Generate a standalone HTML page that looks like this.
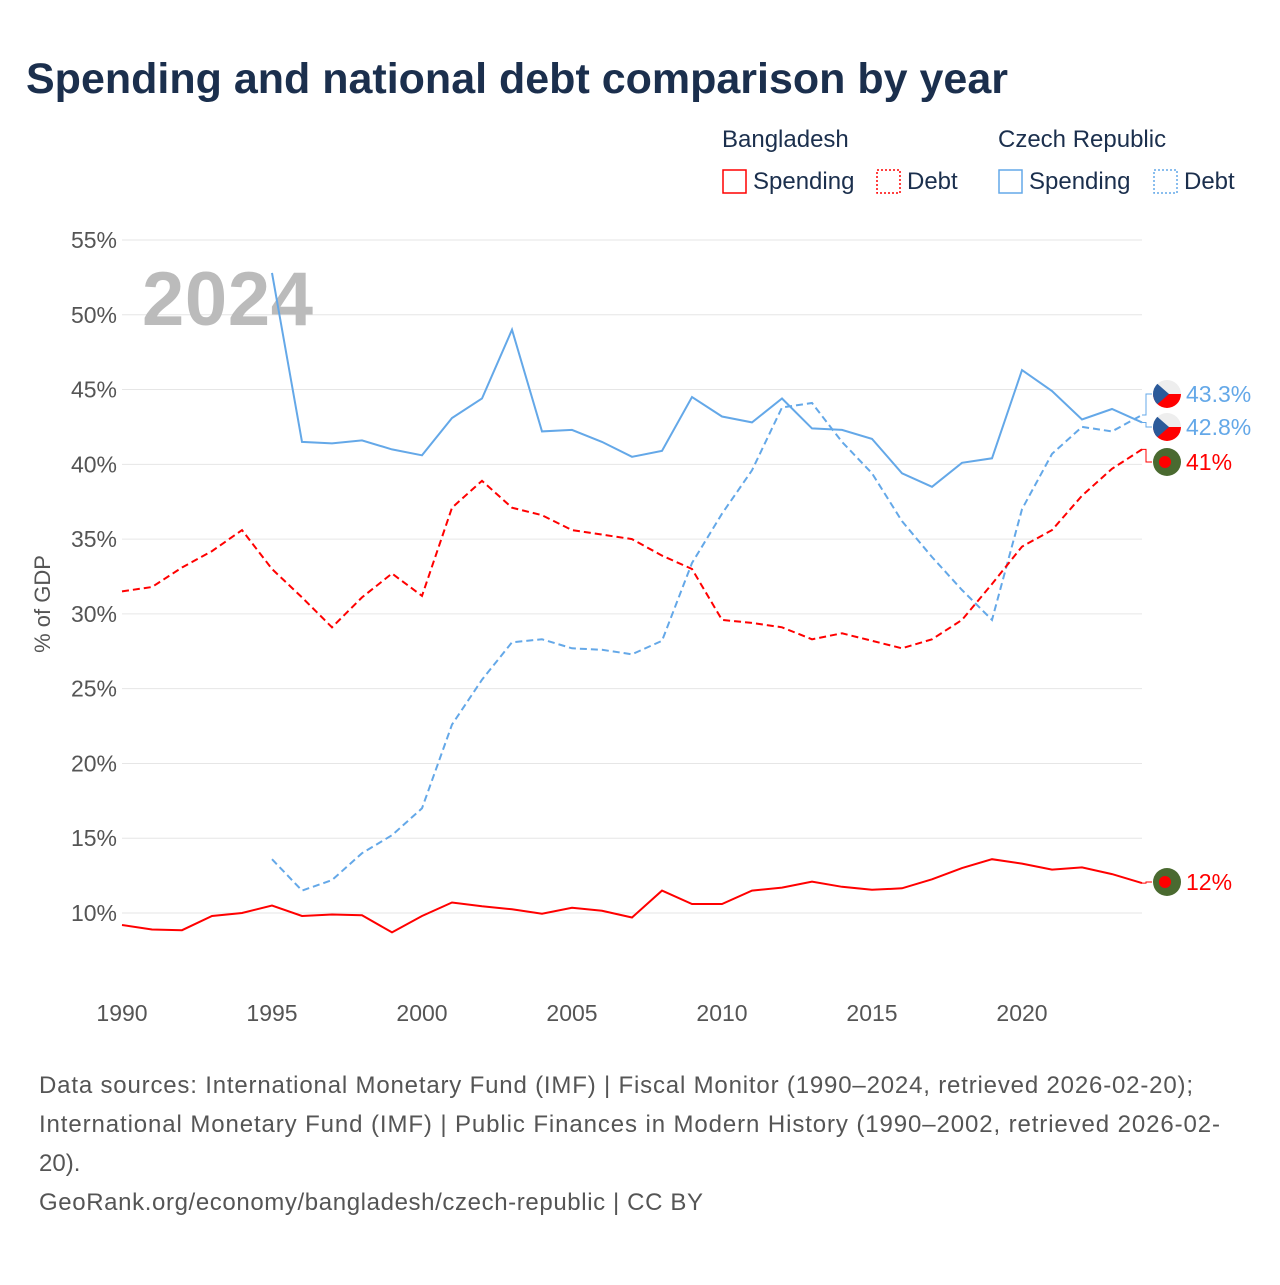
<!DOCTYPE html>
<html><head><meta charset="utf-8"><style>
body{margin:0;background:#fff;font-family:"Liberation Sans",sans-serif}
</style></head><body>
<svg id="c" width="1280" height="1280" xmlns="http://www.w3.org/2000/svg">
<defs><clipPath id="cc"><circle cx="0" cy="0" r="14"/></clipPath></defs>
<text x="26" y="93" font-size="43" font-weight="bold" fill="#1b2f4d">Spending and national debt comparison by year</text>
<g font-size="24" fill="#1b2f4d">
<text x="722" y="147">Bangladesh</text>
<text x="998" y="147">Czech Republic</text>
<rect x="723" y="170" width="23" height="23" fill="none" stroke="#f00" stroke-width="1.5"/>
<text x="753" y="189">Spending</text>
<rect x="877" y="170" width="23" height="23" fill="none" stroke="#f00" stroke-width="1.5" stroke-dasharray="2,2"/>
<text x="907" y="189">Debt</text>
<rect x="999" y="170" width="23" height="23" fill="none" stroke="#64a8e8" stroke-width="1.5"/>
<text x="1029" y="189">Spending</text>
<rect x="1154" y="170" width="23" height="23" fill="none" stroke="#64a8e8" stroke-width="1.5" stroke-dasharray="2,2"/>
<text x="1184" y="189">Debt</text>
</g>
<g id="grid"></g>
<text x="142" y="325" font-size="76" font-weight="bold" fill="#bbb" textLength="171">2024</text>
<g id="series"></g>
<g id="labels"></g>
<text transform="translate(50,604) rotate(-90)" text-anchor="middle" font-size="22" fill="#555">% of GDP</text>
<g font-size="24" fill="#555">
<text x="39" y="1093" textLength="1154">Data sources: International Monetary Fund (IMF) | Fiscal Monitor (1990–2024, retrieved 2026-02-20);</text>
<text x="39" y="1132" textLength="1181">International Monetary Fund (IMF) | Public Finances in Modern History (1990–2002, retrieved 2026-02-</text>
<text x="39" y="1171">20).</text>
<text x="39" y="1210" textLength="664">GeoRank.org/economy/bangladesh/czech-republic | CC BY</text>
</g>
</svg>
<script>
const yTicks=[10,15,20,25,30,35,40,45,50,55];
const xTicks=[1990,1995,2000,2005,2010,2015,2020];
const bdYears=[1990,1991,1992,1993,1994,1995,1996,1997,1998,1999,2000,2001,2002,2003,2004,2005,2006,2007,2008,2009,2010,2011,2012,2013,2014,2015,2016,2017,2018,2019,2020,2021,2022,2023,2024];
const bdSpending=[9.2,8.9,8.85,9.8,10.0,10.5,9.8,9.9,9.85,8.7,9.8,10.7,10.45,10.25,9.95,10.35,10.15,9.7,11.5,10.6,10.6,11.5,11.7,12.1,11.75,11.55,11.65,12.25,13.0,13.6,13.3,12.9,13.05,12.6,12.0];
const bdDebt=[31.5,31.8,33.1,34.2,35.6,33.0,31.1,29.1,31.1,32.7,31.2,37.1,38.9,37.1,36.6,35.6,35.3,35.0,33.9,33.0,29.6,29.4,29.1,28.3,28.7,28.2,27.7,28.3,29.6,32.0,34.5,35.6,37.9,39.7,41.0];
const czYears=[1995,1996,1997,1998,1999,2000,2001,2002,2003,2004,2005,2006,2007,2008,2009,2010,2011,2012,2013,2014,2015,2016,2017,2018,2019,2020,2021,2022,2023,2024];
const czSpending=[52.8,41.5,41.4,41.6,41.0,40.6,43.1,44.4,49.0,42.2,42.3,41.5,40.5,40.9,44.5,43.2,42.8,44.4,42.4,42.3,41.7,39.4,38.5,40.1,40.4,46.3,44.9,43.0,43.7,42.8];
const czDebt=[13.6,11.5,12.2,14.0,15.2,17.0,22.6,25.6,28.1,28.3,27.7,27.6,27.3,28.2,33.4,36.7,39.6,43.8,44.1,41.5,39.4,36.2,33.8,31.6,29.6,37.0,40.7,42.5,42.2,43.3];
const NS='http://www.w3.org/2000/svg';
const X=y=>122+(y-1990)*30;
const Y=v=>913-(v-10)*14.956;
function mk(t,a,p){const e=document.createElementNS(NS,t);for(const k in a)e.setAttribute(k,a[k]);p.appendChild(e);return e;}
const grid=document.getElementById('grid');
yTicks.forEach(t=>{
 const l=mk('line',{x1:122,x2:1142,y1:Y(t),y2:Y(t),stroke:'#e6e6e6','stroke-width':1},grid);
 
 
 const tx=mk('text',{x:117,y:Y(t)+8,'text-anchor':'end','font-size':23,fill:'#555'},grid);
 tx.textContent=t+'%';
 
 
});
xTicks.forEach(t=>{
 const tx=mk('text',{x:X(t),y:1021,'text-anchor':'middle','font-size':23,fill:'#555'},grid);
 tx.textContent=t;
 
 
});
const S=document.getElementById('series');
function line(xs,vs,col,dash,name){
 const d=xs.map((x,i)=>(i?'L':'M')+X(x).toFixed(1)+','+Y(vs[i]).toFixed(1)).join('');
 const p=mk('path',{d:d,fill:'none',stroke:col,'stroke-width':2,'stroke-dasharray':dash||'none'},S);
 
 
}
line(czYears,czSpending,'#64a8e8',null,'cz-spending-line');
line(czYears,czDebt,'#64a8e8','7,4','cz-debt-line');
line(bdYears,bdDebt,'#f00','7,4','bd-debt-line');
line(bdYears,bdSpending,'#f00',null,'bd-spending-line');
const L=document.getElementById('labels');
function lab(v,ly,col,flag,name){
 const x0=X(2024),y0=Y(v);
 const c=mk('path',{d:`M${x0},${y0}H${x0+4}V${ly}H${x0+10}`,fill:'none',stroke:col,'stroke-width':1},L);
 
 
 const g=mk('g',{transform:`translate(1167,${ly})`},L);
 
 
 if(flag==='cz'){
  const gg=mk('g',{'clip-path':'url(#cc)'},g);
  mk('rect',{x:-14,y:-14,width:28,height:14,fill:'#eee'},gg);
  mk('rect',{x:-14,y:0,width:28,height:14,fill:'#f00'},gg);
  mk('path',{d:'M-14,-14L2,0L-14,14Z',fill:'#2b5a9a'},gg);
 }else{
  mk('circle',{r:14,fill:'#4a6a30'},g);
  mk('circle',{cx:-2,r:6,fill:'#f00'},g);
 }
 const t=mk('text',{x:1186,y:ly+8,'font-size':23,fill:col},L);
 t.textContent=(Math.round(v*10)/10)+'%';
 
 
}
lab(czDebt[czDebt.length-1],394,'#64a8e8','cz','cz-debt-end');
lab(czSpending[czSpending.length-1],427,'#64a8e8','cz','cz-spending-end');
lab(bdDebt[bdDebt.length-1],462,'#f00','bd','bd-debt-end');
lab(bdSpending[bdSpending.length-1],882,'#f00','bd','bd-spending-end');
</script>
</body></html>
